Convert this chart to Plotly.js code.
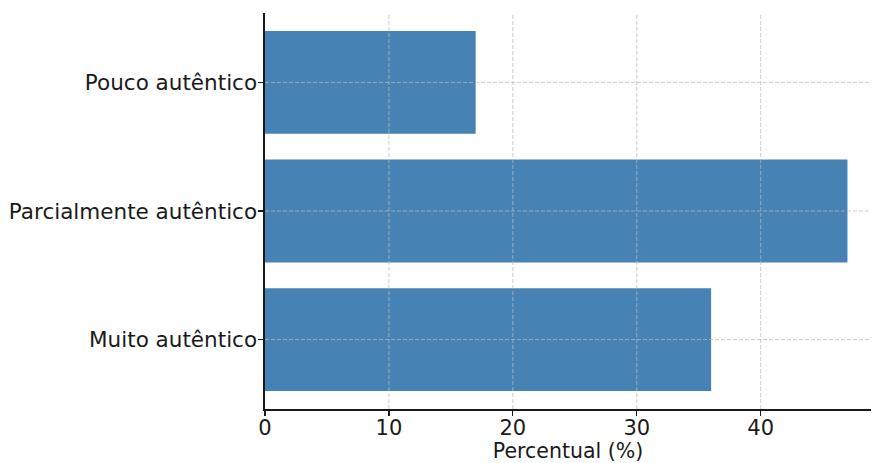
<!DOCTYPE html>
<html>
<head>
<meta charset="utf-8">
<script src="https://cdn.plot.ly/plotly-3.0.1.min.js"></script>
<style>html,body{margin:0;padding:0;background:#fff;}#chart{width:872px;height:463px;}</style>
</head>
<body>
<div id="chart"></div>
<script>
const categories = ["Muito autêntico", "Parcialmente autêntico", "Pouco autêntico"];
const percentValues = [36, 47, 17];
const xTickValues = [0, 10, 20, 30, 40];
const xTickLabels = ["0", "10", "20", "30", "40"];

const trace = {
  type: "bar",
  orientation: "h",
  y: categories,
  x: percentValues,
  width: 0.8,
  marker: { color: "#4682B4", line: { width: 0 } },
  hoverinfo: "x+y"
};

const gridStyle = { color: "rgba(185,185,185,0.75)", width: 1, dash: "4px,2px" };
const shapes = [];
xTickValues.filter(v => v > 0).forEach(v => {
  shapes.push({ type: "line", layer: "above", xref: "x", yref: "paper", x0: v, x1: v, y0: 0, y1: 1, line: gridStyle });
});
categories.forEach(c => {
  shapes.push({ type: "line", layer: "above", xref: "paper", yref: "y", x0: 0, x1: 1, y0: c, y1: c, line: gridStyle });
});

const layout = {
  width: 872,
  height: 463,
  margin: { l: 265, r: 1, t: 13, b: 54 },
  paper_bgcolor: "#ffffff",
  plot_bgcolor: "#ffffff",
  font: { family: "DejaVu Sans, sans-serif", size: 21.5, color: "#1a1a1a" },
  showlegend: false,
  shapes: shapes,
  xaxis: {
    range: [0, 48.9],
    tickvals: xTickValues,
    ticktext: xTickLabels,
    showline: true,
    linecolor: "#1a1a1a",
    linewidth: 1.6,
    ticks: "outside",
    ticklen: 5,
    tickwidth: 1.2,
    tickcolor: "#1a1a1a",
    showgrid: false,
    zeroline: false,
    layer: "above traces",
    ticklabelstandoff: -6,
    title: { text: "Percentual (%)", font: { size: 20.5, color: "#1a1a1a" }, standoff: 7 },
    tickfont: { size: 21, color: "#1a1a1a" }
  },
  yaxis: {
    type: "category",
    range: [-0.54, 2.54],
    showline: true,
    linecolor: "#1a1a1a",
    linewidth: 1.6,
    ticks: "outside",
    ticklen: 5,
    tickwidth: 1.2,
    tickcolor: "#1a1a1a",
    showgrid: false,
    zeroline: false,
    layer: "above traces",
    tickfont: { size: 21.5, color: "#1a1a1a" },
    ticklabelstandoff: -3
  }
};

Plotly.newPlot("chart", [trace], layout, { displayModeBar: false, staticPlot: true });
</script>
</body>
</html>
